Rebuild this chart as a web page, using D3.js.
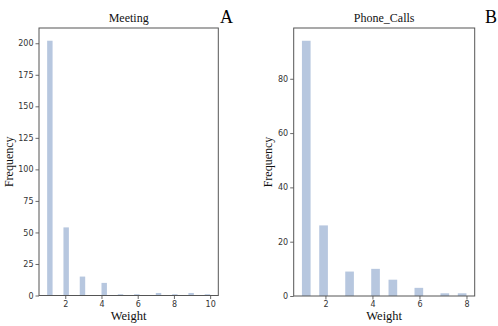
<!DOCTYPE html>
<html>
<head>
<meta charset="utf-8">
<script src="https://cdn.jsdelivr.net/npm/d3@7"></script>
<style>
  body { margin: 0; background: #fff; }
  svg { display: block; }
</style>
</head>
<body>
<div id="chart"></div>
<script>
// Histogram data
const meetingWeights = [1, 2, 3, 4, 5, 6, 7, 8, 9, 10];
const meetingCounts = [202, 54, 15, 10, 1, 1, 2, 1, 2, 1];
const meetingTicksY = [0, 25, 50, 75, 100, 125, 150, 175, 200];
const meetingTicksX = [2, 4, 6, 8, 10];

const phoneWeights = [1, 2, 3, 4, 5, 6, 7, 8];
const phoneCounts = [94, 26, 9, 10, 6, 3, 1, 1];
const phoneTicksY = [0, 20, 40, 60, 80];
const phoneTicksX = [2, 4, 6, 8];

const W = 498, H = 326;
const svg = d3.select("#chart").append("svg")
    .attr("width", W)
    .attr("height", H);

// Draw one panel
function drawPanel(opts) {
    const { left, right, top, bottom, weights, counts, nBins, ticksX, ticksY, title, letter, letterX } = opts;
    const lo = d3.min(weights), hi = d3.max(weights);
    const binW = (hi - lo) / nBins;
    const pad = (hi - lo) * 0.05;

    const x = d3.scaleLinear().domain([lo - pad, hi + pad]).range([left, right]);
    const y = d3.scaleLinear().domain([0, d3.max(counts) * 1.05]).range([bottom, top]);

    // bins from the weight values
    const bars = weights.map((w, i) => {
        const idx = Math.min(nBins - 1, Math.floor((w - lo) / binW));
        return { x0: lo + idx * binW, x1: lo + (idx + 1) * binW, count: counts[i] };
    });

    const g = svg.append("g");

    g.selectAll("rect.bar")
        .data(bars)
        .join("rect")
        .attr("class", "bar")
        .attr("x", d => x(d.x0))
        .attr("width", d => x(d.x1) - x(d.x0))
        .attr("y", d => y(d.count))
        .attr("height", d => y(0) - y(d.count))
        .attr("fill", "#4c72b0")
        .attr("fill-opacity", 0.4);

    // axes
    const xAxis = g.append("g")
        .attr("transform", `translate(0,${bottom})`)
        .call(d3.axisBottom(x).tickValues(ticksX).tickSize(3.5).tickPadding(2).tickFormat(d3.format("d")));
    const yAxis = g.append("g")
        .attr("transform", `translate(${left},0)`)
        .call(d3.axisLeft(y).tickValues(ticksY).tickSize(3.5).tickPadding(2).tickFormat(d3.format("d")));

    [xAxis, yAxis].forEach(a => {
        a.select(".domain").remove();
        a.selectAll("line").attr("stroke", "#444").attr("stroke-width", 0.8);
        a.selectAll("text")
            .attr("fill", "#333")
            .style("font-family", "DejaVu Sans, sans-serif")
            .style("font-size", "8px");
    });

    // frame
    g.append("rect")
        .attr("x", left)
        .attr("y", top)
        .attr("width", right - left)
        .attr("height", bottom - top)
        .attr("fill", "none")
        .attr("stroke", "#555")
        .attr("stroke-width", 1);

    const serif = "Liberation Serif, Times New Roman, serif";

    g.append("text")
        .attr("x", (left + right) / 2)
        .attr("y", 22)
        .attr("text-anchor", "middle")
        .style("font-family", serif)
        .style("font-size", "12px")
        .attr("fill", "#111")
        .text(title);

    g.append("text")
        .attr("x", letterX)
        .attr("y", 23)
        .style("font-family", serif)
        .style("font-size", "18px")
        .attr("fill", "#000")
        .text(letter);

    g.append("text")
        .attr("x", (left + right) / 2)
        .attr("y", 320)
        .attr("text-anchor", "middle")
        .style("font-family", serif)
        .style("font-size", "12.5px")
        .attr("fill", "#111")
        .text("Weight");

    g.append("text")
        .attr("transform", `translate(${opts.yLabelX},${(top + bottom) / 2}) rotate(-90)`)
        .attr("text-anchor", "middle")
        .style("font-family", serif)
        .style("font-size", "12px")
        .attr("fill", "#111")
        .text("Frequency");
}

drawPanel({
    left: 39, right: 218.3, top: 28, bottom: 295.5,
    weights: meetingWeights, counts: meetingCounts, nBins: 30,
    ticksX: meetingTicksX, ticksY: meetingTicksY,
    title: "Meeting", letter: "A", letterX: 220, yLabelX: 13
});

drawPanel({
    left: 293.7, right: 474.7, top: 28, bottom: 296,
    weights: phoneWeights, counts: phoneCounts, nBins: 19,
    ticksX: phoneTicksX, ticksY: phoneTicksY,
    title: "Phone_Calls", letter: "B", letterX: 485, yLabelX: 272
});
</script>
</body>
</html>
